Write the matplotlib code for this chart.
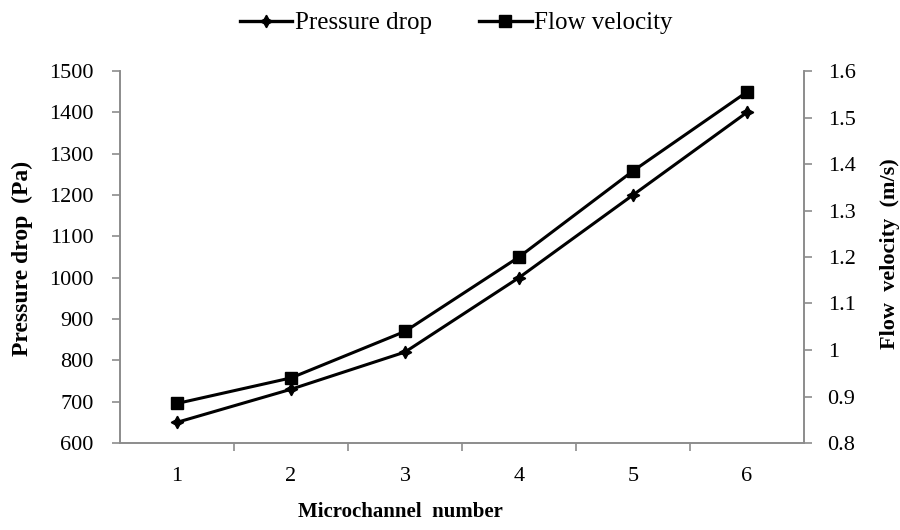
import matplotlib
matplotlib.use("Agg")
import matplotlib.pyplot as plt
from matplotlib.ticker import MultipleLocator
import matplotlib.lines as mlines

plt.rcParams['font.family'] = ['Liberation Serif', 'DejaVu Serif']

# Data
channels = [1, 2, 3, 4, 5, 6]
pressure_drop = [650, 730, 820, 1000, 1200, 1400]          # Pa
flow_velocity = [0.885, 0.94, 1.04, 1.20, 1.385, 1.555]    # m/s
velocity_ticks = [0.8, 0.9, 1.0, 1.1, 1.2, 1.3, 1.4, 1.5, 1.6]
velocity_labels = ['0.8', '0.9', '1', '1.1', '1.2', '1.3', '1.4', '1.5', '1.6']

axis_grey = '#8c8c8c'

fig = plt.figure(figsize=(9, 5.3), dpi=100)
ax = fig.add_axes([120/900, 1-443/530, 684/900, 372/530])
ax2 = ax.twinx()

ax.plot(channels, pressure_drop, color='black', lw=2.2, marker=(4, 1, 0), ms=9,
        mfc='black', mec='black', zorder=3)
ax2.plot(channels, flow_velocity, color='black', lw=2.2, marker='s', ms=8,
         mfc='black', mec='black', zorder=3)

# Excel-style category axis: ticks between categories
ax.set_xlim(0.5, 6.5)
ax.set_xticks(channels)
ax.set_xticks([1.5, 2.5, 3.5, 4.5, 5.5], minor=True)
ax.tick_params(axis='x', which='major', length=0, pad=17, labelsize=16)
ax.tick_params(axis='x', which='minor', length=6, color=axis_grey, width=1.2)

ax.set_ylim(600, 1500)
ax.yaxis.set_major_locator(MultipleLocator(100))
ax.tick_params(axis='y', length=6, color=axis_grey, width=1.2, labelsize=16, pad=13)

ax2.set_ylim(0.8, 1.6)
ax2.set_yticks(velocity_ticks)
ax2.set_yticklabels(velocity_labels)
ax2.tick_params(axis='y', length=6, color=axis_grey, width=1.2, labelsize=16, pad=11)

for a in (ax, ax2):
    a.spines['top'].set_visible(False)
    for s in ('left', 'right', 'bottom'):
        a.spines[s].set_color(axis_grey)
        a.spines[s].set_linewidth(1.2)

# axis titles placed like the reference
fig.text(400/900, 1-512/530, 'Microchannel  number', fontsize=15, fontweight='bold',
         ha='center', va='center')
fig.text(22/900, 1-258/530, 'Pressure drop  (Pa)', fontsize=17, fontweight='bold',
         ha='center', va='center', rotation=90)
fig.text(890/900, 1-254/530, 'Flow  velocity  (m/s)', fontsize=16, fontweight='bold',
         ha='center', va='center', rotation=90)

h1 = mlines.Line2D([], [], color='black', lw=2.4, marker=(4, 1, 0), ms=9, label='Pressure drop')
h2 = mlines.Line2D([], [], color='black', lw=2.4, marker='s', ms=8, label='Flow velocity')
fig.legend(handles=[h1, h2], loc='center', bbox_to_anchor=(456/900, 1-23/530), ncol=2,
           frameon=False, fontsize=18, handlelength=2.1, handletextpad=0.1,
           columnspacing=1.9)

fig.savefig('out.png', dpi=100)
